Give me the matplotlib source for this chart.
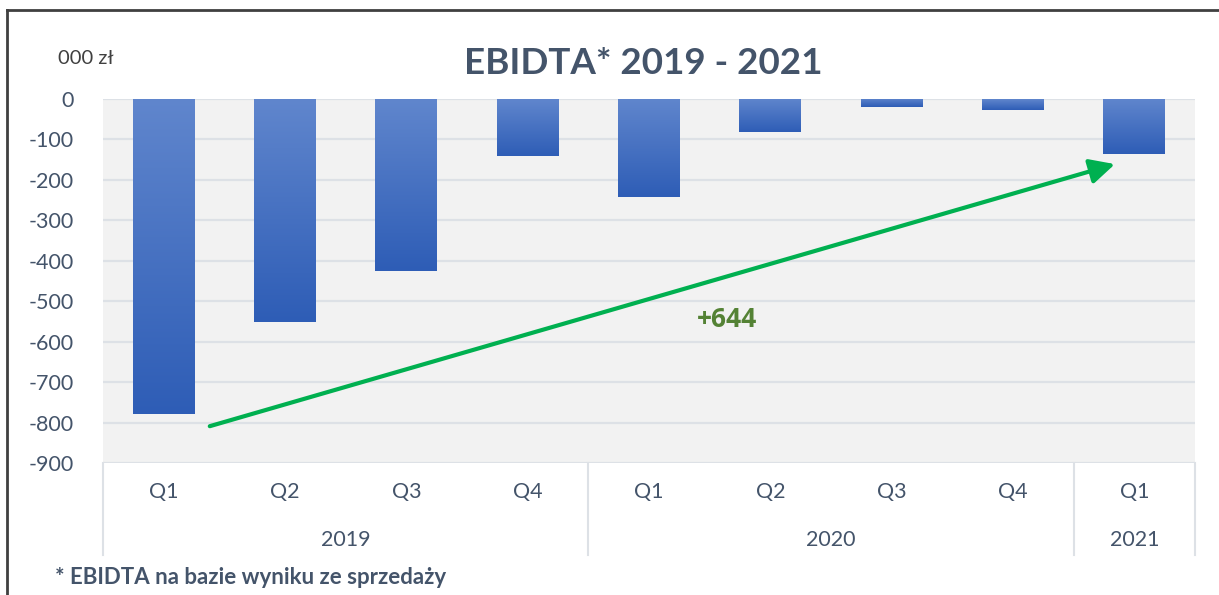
import numpy as np
import matplotlib
matplotlib.use("Agg")
import matplotlib.pyplot as plt
from matplotlib.lines import Line2D
from matplotlib.colors import LinearSegmentedColormap
import matplotlib.transforms as mtransforms

plt.rcParams['font.family'] = ['Lato', 'DejaVu Sans']

# ---- data ----
quarters = ["Q1", "Q2", "Q3", "Q4", "Q1", "Q2", "Q3", "Q4", "Q1"]
years = ["2019", "2020", "2021"]
year_counts = [4, 4, 1]
ebitda = [-780, -551, -425, -140, -243, -82, -20, -27, -136]
yticks = [0, -100, -200, -300, -400, -500, -600, -700, -800, -900]
title = "EBIDTA* 2019 - 2021"
unit_label = "000 zł"
footnote = "* EBIDTA na bazie wyniku ze sprzedaży"
change_label = "+644"
arrow_start = (0.38, -809)
arrow_end = (7.84, -161)

TXT = "#44546A"
W, H = 1219, 595
fig = plt.figure(figsize=(W / 100, H / 100), dpi=100)
fig.patch.set_facecolor("white")

left, right, top, bottom = 103, 1195, 99, 463
ax = fig.add_axes([left / W, 1 - bottom / H, (right - left) / W, (bottom - top) / H])
ax.set_facecolor("#F2F2F2")

x = np.arange(len(quarters))
bars = ax.bar(x, ebitda, width=0.51, color="#4472C4", zorder=3, linewidth=0)
cmap = LinearSegmentedColormap.from_list("g", ["#2E5DB6", "#6086CD"])
grad = np.linspace(0, 1, 256).reshape(-1, 1)
for b in bars:
    bx, by = b.get_x(), b.get_y()
    bw, bh = b.get_width(), b.get_height()
    y0, y1 = min(by, by + bh), max(by, by + bh)
    im = ax.imshow(grad, extent=[bx, bx + bw, y0, y1], origin="lower",
                   cmap=cmap, aspect="auto", zorder=4, interpolation="bilinear")
    im.set_clip_path(b)
ax.set_xlim(-0.5, len(quarters) - 0.5)
ax.set_ylim(-900, 0)

ax.set_yticks(yticks)
ax.set_yticklabels([str(v) for v in yticks], fontsize=15.5, color=TXT)
ax.tick_params(axis="y", length=0, pad=21)
ax.set_xticks([])
ax.grid(axis="y", color="#DDE1E6", linewidth=1.6, zorder=1)
ax.set_axisbelow(True)
for s in ax.spines.values():
    s.set_visible(False)

# category axis
trans = mtransforms.blended_transform_factory(ax.transData, ax.transAxes)
for xi, q in zip(x, quarters):
    ax.text(xi, -0.08, q, transform=trans, ha="center", va="center",
            fontsize=15.5, color=TXT)
edges = np.concatenate([[0], np.cumsum(year_counts)]) - 0.5
for i, yr in enumerate(years):
    ax.text((edges[i] + edges[i + 1]) / 2, -0.212, yr, transform=trans,
            ha="center", va="center", fontsize=15.5, color=TXT)
for e in edges:
    ax.add_line(Line2D([e, e], [0, -0.253], transform=trans, color="#DDE1E6",
                       linewidth=1.5, clip_on=False))

# arrow and label
ax.annotate("", xy=arrow_end, xytext=arrow_start,
            arrowprops=dict(arrowstyle="-|>,head_length=1.0,head_width=0.5",
                            color="#00B050", lw=3, mutation_scale=15,
                            shrinkA=0, shrinkB=0),
            zorder=6)
ax.text(4.64, -546, change_label, ha="center", va="center", fontsize=19,
        fontweight="bold", family=["Open Sans", "DejaVu Sans"],
        color="#548235", zorder=6)

# titles and texts
fig.text(643 / W, 1 - 64 / H, title, ha="center", va="center", fontsize=26.5,
         fontweight="bold", color=TXT)
fig.text(58 / W, 1 - 58 / H, unit_label, ha="left", va="center", fontsize=14.5,
         color="#404040")
fig.text(55 / W, 1 - 577 / H, footnote, ha="left", va="center", fontsize=16,
         fontweight="bold", color=TXT)

# frame
fig.add_artist(Line2D([7 / W, 7 / W], [0, 1 - 10 / H], transform=fig.transFigure,
                      color="#404040", linewidth=2))
fig.add_artist(Line2D([7 / W, 1], [1 - 10 / H, 1 - 10 / H], transform=fig.transFigure,
                      color="#404040", linewidth=2))

fig.savefig("out.png", dpi=100)
